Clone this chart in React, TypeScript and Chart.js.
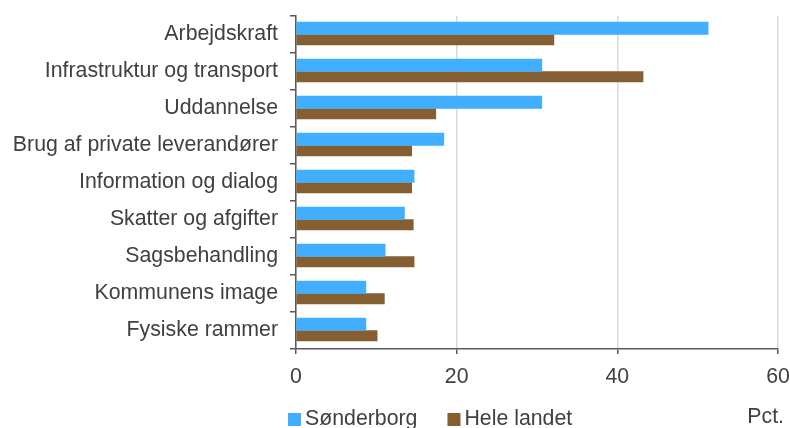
import React, { useEffect, useRef } from "react";
import { Chart, registerables } from "chart.js";

Chart.register(...registerables);

const categories = [
  "Arbejdskraft",
  "Infrastruktur og transport",
  "Uddannelse",
  "Brug af private leverandører",
  "Information og dialog",
  "Skatter og afgifter",
  "Sagsbehandling",
  "Kommunens image",
  "Fysiske rammer",
];
const sonderborg = [51.3, 30.6, 30.6, 18.4, 14.7, 13.5, 11.1, 8.7, 8.7];
const heleLandet = [32.1, 43.2, 17.4, 14.4, 14.4, 14.6, 14.7, 11.0, 10.1];
const seriesNames = ["Sønderborg", "Hele landet"];
const xMin = 0;
const xMax = 60;
const xStep = 20;
const unitLabel = "Pct.";

const FONT = '"Liberation Sans", Arial, sans-serif';
const FS = 21.3;
const BLUE = "#41AEFF";
const BROWN = "#855F31";
const TEXT = "#404040";
const AXIS = "#595959";
const GRID = "#D9D9D9";

const legendPlugin = {
  id: "customLegend",
  afterDraw(chart: any) {
    const ctx = chart.ctx;
    const x0 = chart.scales.x.getPixelForValue(xMin);
    const H = chart.height;
    ctx.save();
    ctx.font = `${FS}px ${FONT}`;
    ctx.textBaseline = "alphabetic";
    ctx.textAlign = "left";
    const baseline = H - 3;
    let x = x0 - 8;
    const colors = [BLUE, BROWN];
    seriesNames.forEach((name, i) => {
      ctx.fillStyle = colors[i];
      ctx.fillRect(x, H - 15, 13, 13);
      ctx.fillStyle = TEXT;
      ctx.fillText(name, x + 17, baseline);
      x += 17 + ctx.measureText(name).width + 30;
    });
    ctx.textAlign = "right";
    ctx.fillText(unitLabel, chart.width - 6, H - 5);
    ctx.restore();
  },
};

export default function App() {
  const ref = useRef<HTMLCanvasElement | null>(null);
  useEffect(() => {
    if (!ref.current) return;
    const chart = new Chart(ref.current, {
      type: "bar",
      data: {
        labels: categories,
        datasets: [
          {
            label: seriesNames[0],
            data: sonderborg,
            backgroundColor: BLUE,
            borderWidth: 0,
            barThickness: 12.5,
          },
          {
            label: seriesNames[1],
            data: heleLandet,
            backgroundColor: BROWN,
            borderWidth: 0,
            barThickness: 10.5,
          },
        ],
      },
      options: {
        indexAxis: "y",
        animation: false,
        responsive: true,
        maintainAspectRatio: false,
        layout: { padding: { top: 16, right: 12, bottom: 0, left: 0 } },
        plugins: {
          legend: { display: false },
          tooltip: { enabled: false },
        },
        scales: {
          x: {
            type: "linear",
            min: xMin,
            max: xMax,
            ticks: {
              stepSize: xStep,
              color: TEXT,
              font: { family: FONT, size: FS },
              padding: 10,
              maxRotation: 0,
            },
            grid: {
              color: GRID,
              lineWidth: 1.5,
              tickColor: AXIS,
              tickLength: 5,
              drawTicks: true,
            },
            border: { display: true, color: AXIS, width: 1.5 },
            afterFit(scale: any) {
              scale.height = 79;
              scale.paddingLeft = 0;
              scale.paddingRight = 0;
            },
          },
          y: {
            type: "category",
            offset: true,
            ticks: {
              color: TEXT,
              font: { family: FONT, size: FS },
              padding: 12,
              autoSkip: false,
            },
            grid: {
              display: true,
              drawOnChartArea: false,
              drawTicks: true,
              tickLength: 6,
              color: AXIS,
              lineWidth: 1.5,
              offset: true,
            },
            border: { display: true, color: AXIS, width: 1.5 },
            afterFit(scale: any) {
              scale.width = 296;
              scale.paddingTop = 0;
              scale.paddingBottom = 0;
            },
          },
        },
      },
      plugins: [legendPlugin],
    } as any);
    return () => chart.destroy();
  }, []);
  return (
    <div style={{ position: "fixed", left: 0, top: 0, width: 790, height: 428, background: "#fff" }}>
      <canvas ref={ref} />
    </div>
  );
}
